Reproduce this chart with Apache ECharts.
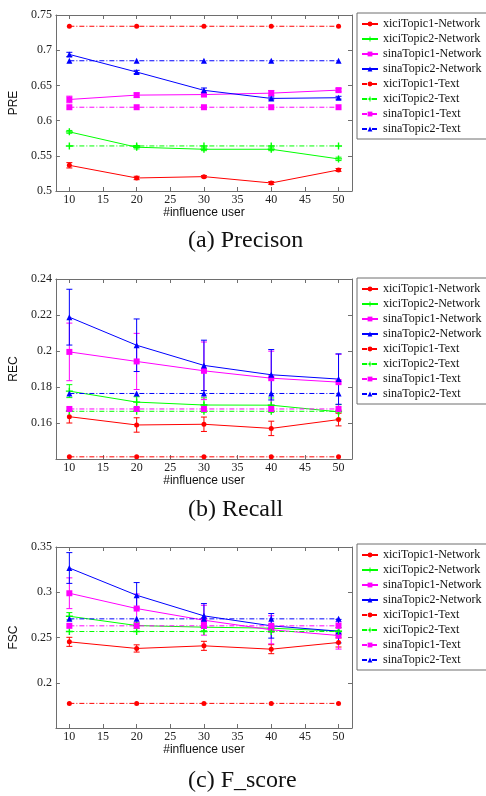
<!DOCTYPE html>
<html>
<head>
  <meta charset="UTF-8">
  <style>
    html, body { margin: 0; padding: 0; background: #fff; }
    #chart { width: 486px; height: 796px; }
  </style>
</head>
<body>
<div id="chart"></div>
<script type="text/javascript" src="https://cdn.jsdelivr.net/npm/echarts@6/dist/echarts.min.js"></script>
<script type="text/javascript">
  // x values (#influence user)
  var users = [10, 20, 30, 40, 50];
  var xTicks = [10, 15, 20, 25, 30, 35, 40, 45, 50];

  var names = ['xiciTopic1-Network', 'xiciTopic2-Network', 'sinaTopic1-Network', 'sinaTopic2-Network',
               'xiciTopic1-Text', 'xiciTopic2-Text', 'sinaTopic1-Text', 'sinaTopic2-Text'];

  // (a) Precison
  var preXici1Net = [0.5365, 0.5185, 0.5204, 0.5114, 0.5299];
  var preXici2Net = [0.584, 0.5622, 0.5593, 0.5593, 0.5456];
  var preSina1Net = [0.630, 0.6362, 0.637, 0.639, 0.6433];
  var preSina2Net = [0.694, 0.669, 0.643, 0.6315, 0.6325];
  var preXici1Err = [0.0038, 0.0024, 0.0015, 0.002, 0.002];
  var preXici2Err = [0.002, 0.0024, 0.002, 0.002, 0.0024];
  var preSina1Err = [0.0047, 0.003, 0.0024, 0.0038, 0.0024];
  var preSina2Err = [0.003, 0.0024, 0.0033, 0.002, 0.002];
  var preXici1Text = [0.734, 0.734, 0.734, 0.734, 0.734];
  var preXici2Text = [0.564, 0.564, 0.564, 0.564, 0.564];
  var preSina1Text = [0.619, 0.619, 0.619, 0.619, 0.619];
  var preSina2Text = [0.685, 0.685, 0.685, 0.685, 0.685];
  var preTicks = [0.5, 0.55, 0.6, 0.65, 0.7, 0.75];

  // (b) Recall
  var recXici1Net = [0.1635, 0.1589, 0.1593, 0.157, 0.1619];
  var recXici2Net = [0.1777, 0.1716, 0.170, 0.1699, 0.1662];
  var recSina1Net = [0.1995, 0.1942, 0.189, 0.1849, 0.1827];
  var recSina2Net = [0.2188, 0.2032, 0.192, 0.1868, 0.1844];
  var recXici1Err = [0.0035, 0.004, 0.004, 0.004, 0.0035];
  var recXici2Err = [0.0036, 0.003, 0.004, 0.004, 0.004];
  var recSina1Err = [0.016, 0.0156, 0.016, 0.015, 0.0155];
  var recSina2Err = [0.0155, 0.0146, 0.014, 0.014, 0.014];
  var recXici1Text = [0.1412, 0.1412, 0.1412, 0.1412, 0.1412];
  var recXici2Text = [0.1665, 0.1665, 0.1665, 0.1665, 0.1665];
  var recSina1Text = [0.1678, 0.1678, 0.1678, 0.1678, 0.1678];
  var recSina2Text = [0.1764, 0.1764, 0.1764, 0.1764, 0.1764];
  var recTicks = [0.16, 0.18, 0.2, 0.22, 0.24];

  // (c) F_score
  var fscXici1Net = [0.2452, 0.2379, 0.2408, 0.2371, 0.2445];
  var fscXici2Net = [0.2735, 0.2632, 0.2614, 0.2603, 0.257];
  var fscSina1Net = [0.2989, 0.282, 0.2691, 0.2585, 0.2522];
  var fscSina2Net = [0.3268, 0.2967, 0.2739, 0.2629, 0.257];
  var fscXici1Err = [0.005, 0.004, 0.005, 0.005, 0.005];
  var fscXici2Err = [0.004, 0.003, 0.004, 0.004, 0.004];
  var fscSina1Err = [0.017, 0.016, 0.0165, 0.0155, 0.015];
  var fscSina2Err = [0.017, 0.014, 0.0136, 0.0136, 0.013];
  var fscXici1Text = [0.1772, 0.1772, 0.1772, 0.1772, 0.1772];
  var fscXici2Text = [0.2566, 0.2566, 0.2566, 0.2566, 0.2566];
  var fscSina1Text = [0.2629, 0.2629, 0.2629, 0.2629, 0.2629];
  var fscSina2Text = [0.2706, 0.2706, 0.2706, 0.2706, 0.2706];
  var fscTicks = [0.2, 0.25, 0.3, 0.35];

  var colors = ['#ff0000', '#00ff00', '#ff00ff', '#0000ff'];
  var plusPath = 'path://M4,0H6V4H10V6H6V10H4V6H0V4H4Z';
  var symbols = ['circle', plusPath, 'rect', 'triangle'];
  var symSizes = [5, 7, 6, 6];
  var dashDot = [5, 2, 1, 2];

  var panels = [
    { top: 15, height: 176, min: 0.5, max: 0.75, ticks: preTicks, name: 'PRE', caption: '(a) Precison', capY: 243, legTop: 13,
      net: [preXici1Net, preXici2Net, preSina1Net, preSina2Net],
      err: [preXici1Err, preXici2Err, preSina1Err, preSina2Err],
      txt: [preXici1Text, preXici2Text, preSina1Text, preSina2Text] },
    { top: 279, height: 180, min: 0.14, max: 0.24, ticks: recTicks, name: 'REC', caption: '(b) Recall', capY: 512, legTop: 278,
      net: [recXici1Net, recXici2Net, recSina1Net, recSina2Net],
      err: [recXici1Err, recXici2Err, recSina1Err, recSina2Err],
      txt: [recXici1Text, recXici2Text, recSina1Text, recSina2Text] },
    { top: 547, height: 181, min: 0.15, max: 0.35, ticks: fscTicks, name: 'FSC', caption: '(c) F_score', capY: 783, legTop: 544,
      net: [fscXici1Net, fscXici2Net, fscSina1Net, fscSina2Net],
      err: [fscXici1Err, fscXici2Err, fscSina1Err, fscSina2Err],
      txt: [fscXici1Text, fscXici2Text, fscSina1Text, fscSina2Text] }
  ];

  var serif = 'Liberation Serif';
  var sans = 'Liberation Sans';
  var boxColor = '#6e6e6e';

  var grid = [], xAxis = [], yAxis = [], series = [], legend = [], graphic = [];

  function errorRender(params, api) {
    var x = api.value(0);
    var lo = api.coord([x, api.value(1)]);
    var hi = api.coord([x, api.value(2)]);
    var style = { stroke: api.visual('color'), lineWidth: 1 };
    return {
      type: 'group',
      children: [
        { type: 'line', shape: { x1: lo[0], y1: lo[1], x2: hi[0], y2: hi[1] }, style: style },
        { type: 'line', shape: { x1: lo[0] - 3, y1: lo[1], x2: lo[0] + 3, y2: lo[1] }, style: style },
        { type: 'line', shape: { x1: hi[0] - 3, y1: hi[1], x2: hi[0] + 3, y2: hi[1] }, style: style }
      ]
    };
  }

  panels.forEach(function (p, g) {
    grid.push({ left: 51, top: p.top, width: 301, height: p.height });

    var axisLine = { show: true, onZero: false, lineStyle: { color: boxColor, width: 1 } };
    var tick = { show: true, inside: true, length: 4, lineStyle: { color: boxColor } };

    xAxis.push({
      type: 'value', gridIndex: g, min: 8, max: 52, position: 'bottom',
      axisLine: axisLine,
      axisTick: Object.assign({ customValues: xTicks }, tick),
      axisLabel: { customValues: xTicks, margin: 3, color: '#222', fontFamily: serif, fontSize: 12 },
      splitLine: { show: false },
      name: '#influence user', nameLocation: 'middle', nameGap: 14,
      nameTextStyle: { fontFamily: sans, fontSize: 12, color: '#111', verticalAlign: 'top' }
    });
    xAxis.push({
      type: 'value', gridIndex: g, min: 8, max: 52, position: 'top',
      axisLine: axisLine,
      axisTick: Object.assign({ customValues: xTicks }, tick),
      axisLabel: { show: false }, splitLine: { show: false }
    });
    yAxis.push({
      type: 'value', gridIndex: g, min: p.min, max: p.max, position: 'left',
      axisLine: axisLine,
      axisTick: Object.assign({ customValues: p.ticks }, tick),
      axisLabel: { customValues: p.ticks, margin: 4, color: '#222', fontFamily: serif, fontSize: 12 },
      splitLine: { show: false },
      name: p.name, nameLocation: 'middle', nameGap: 22, nameRotate: 90,
      nameTextStyle: { fontFamily: sans, fontSize: 12, color: '#111' }
    });
    yAxis.push({
      type: 'value', gridIndex: g, min: p.min, max: p.max, position: 'right',
      axisLine: axisLine,
      axisTick: Object.assign({ customValues: p.ticks }, tick),
      axisLabel: { show: false }, splitLine: { show: false }
    });

    var xi = g * 2, yi = g * 2;

    // error bars for the network series
    p.net.forEach(function (vals, k) {
      series.push({
        type: 'custom', xAxisIndex: xi, yAxisIndex: yi, silent: true,
        itemStyle: { color: colors[k] }, z: 2,
        renderItem: errorRender,
        data: users.map(function (u, i) { return [u, vals[i] - p.err[k][i], vals[i] + p.err[k][i]]; })
      });
    });

    p.net.forEach(function (vals, k) {
      series.push({
        type: 'line', name: names[k], xAxisIndex: xi, yAxisIndex: yi,
        symbol: symbols[k], symbolSize: symSizes[k], z: 3,
        itemStyle: { color: colors[k] },
        lineStyle: { color: colors[k], width: 1 },
        data: users.map(function (u, i) { return [u, vals[i]]; })
      });
    });
    p.txt.forEach(function (vals, k) {
      series.push({
        type: 'line', name: names[k + 4], xAxisIndex: xi, yAxisIndex: yi,
        symbol: symbols[k], symbolSize: symSizes[k], z: 3,
        itemStyle: { color: colors[k] },
        lineStyle: { color: colors[k], width: 1, type: dashDot },
        data: users.map(function (u, i) { return [u, vals[i]]; })
      });
    });

    legend.push({
      data: names, orient: 'vertical', left: 357, top: p.legTop,
      itemWidth: 16, itemHeight: 6, itemGap: 3,
      padding: [5, 12, 4, 4],
      borderColor: boxColor, borderWidth: 1, borderRadius: 0,
      selectedMode: false,
      textStyle: { fontFamily: serif, fontSize: 12, color: '#111' }
    });

    graphic.push({
      type: 'text', left: 188, top: p.capY - 14,
      style: { text: p.caption, font: '24px "Liberation Serif"', fill: '#111' }
    });
  });

  var chart = echarts.init(document.getElementById('chart'));
  chart.setOption({
    animation: false,
    grid: grid,
    xAxis: xAxis,
    yAxis: yAxis,
    legend: legend,
    graphic: graphic,
    series: series
  });
</script>
</body>
</html>
